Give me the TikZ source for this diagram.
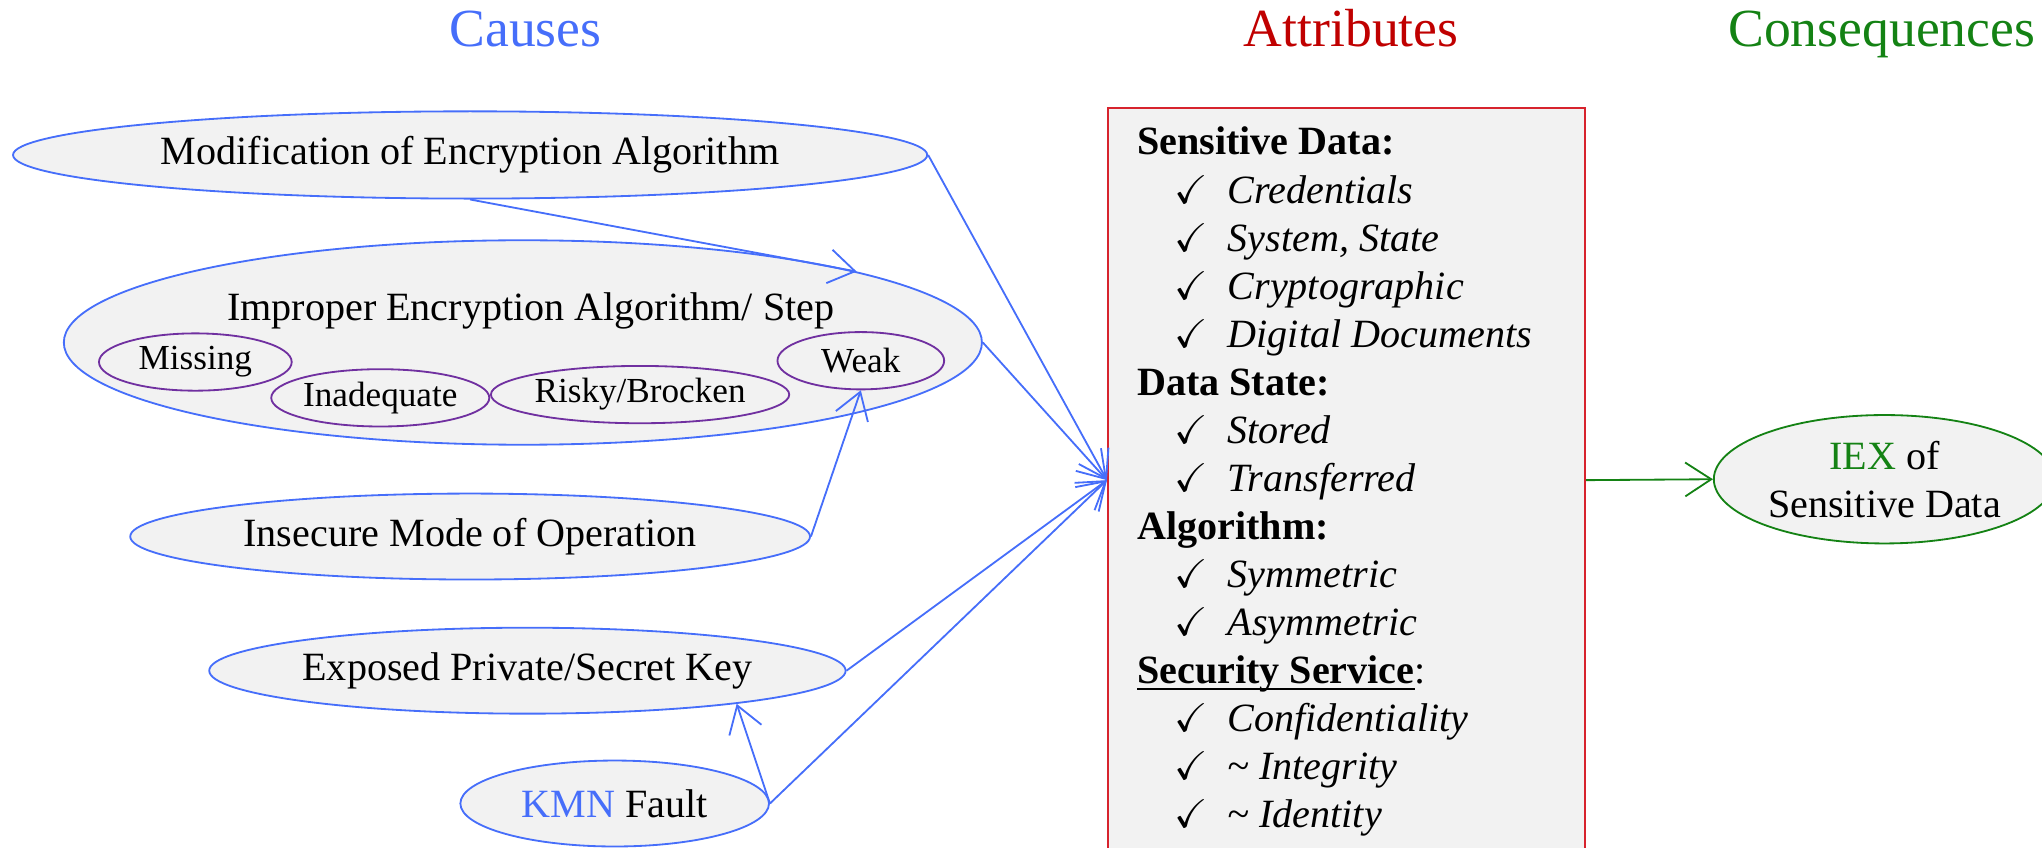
\documentclass[tikz,border=0pt]{standalone}
\usepackage{fontspec}
\setmainfont{Liberation Serif}
\usepackage{amssymb}
\usepackage{tikz}
\usetikzlibrary{arrows.meta,shapes.geometric}
\definecolor{causeblue}{RGB}{70,110,250}
\definecolor{attrred}{RGB}{192,0,0}
\definecolor{boxred}{RGB}{215,35,45}
\definecolor{consgreen}{RGB}{20,130,20}
\definecolor{subpurple}{RGB}{112,48,160}
\definecolor{paleGray}{RGB}{242,242,242}
\newcommand{\chkitem}{\hspace*{14.25pt}\makebox[20.5pt][l]{$\checkmark$}}

\begin{document}
\begin{tikzpicture}[x=0.5pt, y=-0.5pt, line width=0.7pt,
  font=\fontsize{15.4}{18.45}\selectfont,
  title/.style={anchor=base, font=\fontsize{20.6}{24}\selectfont},
  cause/.style={ellipse, draw=causeblue, fill=paleGray, inner sep=0pt},
  sub/.style={ellipse, draw=subpurple, fill=paleGray, inner sep=0pt,
    minimum height=22pt, font=\fontsize{13.5}{16}\selectfont},
  link/.style={causeblue, -{Straight Barb[length=10pt,width=13pt]}}]

\useasboundingbox (0,0) rectangle (1568,651);

% titles
\node (causes) at (403.5,36) [title, text=causeblue] {Causes};
\node (attributes) at (1037.5,36) [title, text=attrred] {Attributes};
\node (consequences) at (1445,36) [title, text=consgreen] {Consequences};

% causes
\node (modif) at (361,119) [cause, minimum width=351pt, minimum height=33.5pt] {Modification of Encryption Algorithm};
\node (improper) at (401.5,263) [cause, minimum width=352.5pt, minimum height=78.5pt] {};
\node (improperTxt) at (407.5,239) {Improper Encryption Algorithm/ Step};
\node (missing) at (150,278) [sub, minimum width=74pt] {Missing};
\node (inadequate) at (292,305.5) [sub, minimum width=74pt] {Inadequate};
\node (risky) at (491.5,303) [sub, minimum width=110.5pt] {Risky/Brocken};
\node (weak) at (661,277) [sub, minimum width=64pt] {Weak};
\node (insecure) at (361,412) [cause, minimum width=261pt, minimum height=33pt] {Insecure Mode of Operation};
\node (exposed) at (405,515) [cause, minimum width=204.5pt, minimum height=33pt] {Exposed Private/Secret Key};
\node (kmn) at (472,617) [cause, minimum width=118.5pt, minimum height=33pt] {\textcolor{causeblue}{KMN} Fault};

% attributes
\node (attr) at (850,82) [anchor=north west, draw=boxred, fill=paleGray, minimum width=183.25pt, minimum height=286pt, inner sep=0pt] {};
\node (attrTxt) at (872.5,635.6) [anchor=base west, inner sep=0pt, align=left] {%
\textbf{Sensitive Data:}\\
\chkitem\textit{Credentials}\\
\chkitem\textit{System, State}\\
\chkitem\textit{Cryptographic}\\
\chkitem\textit{Digital Documents}\\
\textbf{Data State:}\\
\chkitem\textit{Stored}\\
\chkitem\textit{Transferred}\\
\textbf{Algorithm:}\\
\chkitem\textit{Symmetric}\\
\chkitem\textit{Asymmetric}\\
\underline{\raisebox{0pt}[\height][0pt]{\textbf{Security Service}}}:\\
\chkitem\textit{Confidentiality}\\
\chkitem\textit{\textasciitilde\ Integrity}\\
\chkitem\textit{\textasciitilde\ Identity}};

% consequences
\node (iex) at (1447,368) [ellipse, draw=consgreen, fill=paleGray, inner sep=0pt, minimum width=131pt, minimum height=49.3pt, align=center] {\textcolor{consgreen}{IEX} of\\ Sensitive Data};

% links
\draw[link] (modif.south) -- (improper.12);
\draw[link] (modif.east) -- (attr.west);
\draw[link] (improper.east) -- (attr.west);
\draw[link] (insecure.east) -- (weak.south);
\draw[link] (exposed.east) -- (attr.west);
\draw[link] (kmn.east) -- (attr.west);
\draw[link] (kmn.east) -- (exposed.-9);
\draw[link, consgreen] (attr.east) -- (iex.west);

\end{tikzpicture}
\end{document}
